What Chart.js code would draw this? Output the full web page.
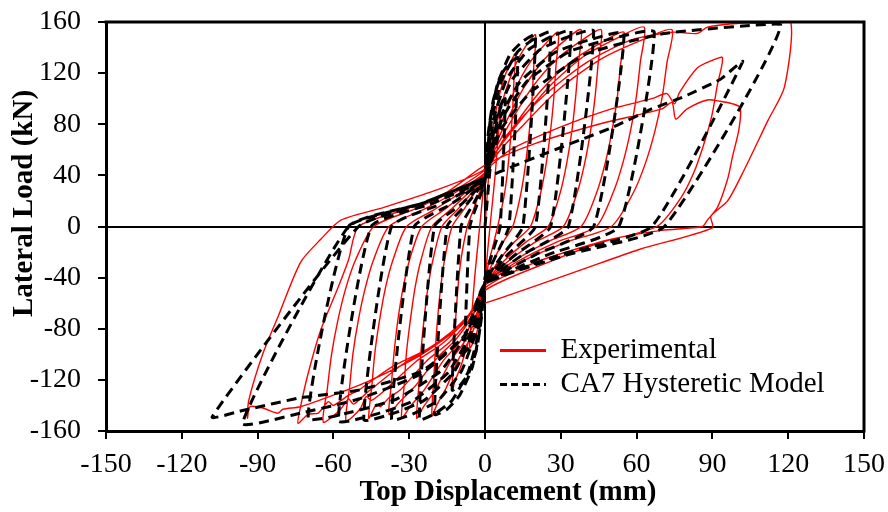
<!DOCTYPE html>
<html><head><meta charset="utf-8">
<script src="https://cdn.jsdelivr.net/npm/chart.js@4.4.1/dist/chart.umd.min.js"></script>
<style>html,body{margin:0;padding:0;background:#fff;}canvas{display:block;}</style>
</head><body>
<canvas id="c" width="888" height="512"></canvas>
<script>
const xTicks = [-150,-120,-90,-60,-30,0,30,60,90,120,150];
const yTicks = [-160,-120,-80,-40,0,40,80,120,160];
const seriesNames = ['Experimental','CA7 Hysteretic Model'];
const xTitle = 'Top Displacement (mm)';
const yTitle = 'Lateral Load (kN)';

// Experimental cycles: [top displacement (mm), lateral load (kN)]
const exp1 = [[0,0],[1.5,40],[3.5,72],[6,95],[5.2,70],[4,40],[2.5,10],[1,-20],[0,-45],[-1.5,-65],[-3.5,-85],[-6,-95],[-5.2,-68],[-4,-38],[-2.5,-8],[-1,22],[0,42]];
const exp2 = [[0.6,47],[2.3,68],[4.8,95],[7.4,115],[10,128],[12,135],[11.4,112],[10.9,89],[10,66],[8.9,43],[7.5,23],[5,0],[3.3,-14],[1.5,-28],[0,-45],[-1.3,-58],[-3.9,-77],[-6.5,-90],[-9.5,-109],[-11.7,-120],[-13,-128],[-12.5,-106],[-12,-84],[-11.3,-63],[-10.4,-41],[-9.2,-22],[-7,0],[-4.6,13],[-2.1,27],[0,42]];
const exp3 = [[1,52],[3.8,75],[8,105],[12.4,128],[16.8,143],[20,150],[19.3,125],[18.6,99],[17.5,74],[16,48],[14.2,26],[11,0],[7.2,-12],[3.3,-27],[0,-45],[-2.1,-67],[-6.3,-89],[-10.5,-104],[-15.3,-126],[-18.9,-139],[-21,-148],[-20.4,-123],[-19.7,-98],[-18.8,-73],[-17.5,-47],[-15.9,-25],[-13,0],[-8.5,13],[-3.9,27],[0,42]];
const exp4 = [[1.5,53],[5.5,76],[11.6,106],[18,129],[24.4,144],[29,152],[28.1,126],[27.2,100],[25.9,74],[24.2,49],[22,26],[18,0],[11.7,-12],[5.4,-27],[0,-45],[-2.7,-68],[-8.1,-90],[-13.5,-105],[-19.7,-128],[-24.3,-141],[-27,-150],[-26.2,-125],[-25.4,-99],[-24.2,-74],[-22.6,-48],[-20.6,-26],[-17,0],[-11,13],[-5.1,27],[0,42]];
const exp5 = [[1.9,54],[7.2,77],[15.2,108],[23.6,131],[31.9,146],[38,154],[37,128],[35.9,102],[34.4,75],[32.3,49],[29.7,26],[25,0],[16.3,-12],[7.5,-27],[0,-45],[-3.3,-68],[-9.9,-90],[-16.5,-105],[-24.1,-128],[-29.7,-141],[-33,-150],[-32,-125],[-31.1,-99],[-29.6,-74],[-27.7,-48],[-25.3,-26],[-21,0],[-13.7,13],[-6.3,27],[0,42]];
const exp6 = [[2.3,54],[8.7,77],[18.4,108],[28.5,131],[38.6,146],[46,154],[44.8,128],[43.6,102],[41.8,75],[39.4,49],[36.4,26],[31,0],[20,-12],[9.3,-27],[0,-45],[-3.8,-66],[-11.4,-88],[-19,-103],[-27.7,-125],[-34.2,-138],[-38,-147],[-37,-122],[-35.9,-97],[-34.4,-72],[-32.3,-47],[-29.7,-25],[-25,0],[-16.3,13],[-7.5,27],[0,42]];
const exp7 = [[2.8,53],[10.5,76],[22,106],[34.1,129],[46.2,144],[55,152],[53.6,126],[52.3,100],[50.2,74],[47.5,49],[44.1,26],[38,0],[24.7,-12],[11.4,-27],[0,-45],[-4.6,-68],[-13.8,-90],[-23,-105],[-33.6,-128],[-38,-134],[-41.4,-141],[-43,-139],[-46,-150],[-44.8,-125],[-43.6,-99],[-41.8,-74],[-39.4,-48],[-36.4,-26],[-31,0],[-20.2,13],[-9.3,27],[0,42]];
const exp8 = [[3.2,55],[12,78],[25.2,109],[39,133],[52.9,148],[63,156],[61.5,129],[60,103],[57.7,76],[54.6,50],[50.8,27],[44,0],[28.6,-12],[13.2,-27],[0,-45],[-5.5,-68],[-16.5,-91],[-27.5,-106],[-40.2,-129],[-45,-136],[-47,-133],[-49.5,-143],[-55,-152],[-53.6,-126],[-52.3,-100],[-50.2,-74],[-47.5,-49],[-44.1,-26],[-38,0],[-24.7,13],[-11.4,27],[0,42]];
const exp9 = [[3.7,54],[14,77],[29.6,108],[45.9,131],[62.2,146],[74,154],[72,128],[70.2,102],[67.3,75],[63.4,49],[58.6,26],[50,0],[32.5,-12],[15,-27],[0,-46],[-6.4,-69],[-19.2,-92],[-32,-107],[-46.7,-130],[-52,-139],[-54,-135],[-57.6,-144],[-64,-153],[-62.4,-127],[-60.8,-101],[-58.4,-75],[-55.2,-49],[-51.2,-26],[-44,0],[-28.6,13],[-13.2,27],[0,44]];
const exp10 = [[10,60],[30,78],[50,92],[66,100],[72,104],[75,96],[77,105],[84,124],[90,130],[94,132],[91.9,110],[89.8,87],[86.7,65],[82.6,42],[77.4,22],[68,0],[44,-13],[20,-28],[0,-48],[-7.4,-72],[-22,-95],[-37,-110],[-50,-128],[-54,-132],[-60,-140],[-62,-137],[-66,-146],[-70,-147],[-74,-154],[-73,-141],[-70,-115],[-65,-81],[-58,-47],[-54,-26],[-50,0],[-32,13],[-15,27],[0,48]];
const exp11 = [[20,65],[45,80],[70,92],[74,97],[75.5,84],[80,92],[88,99],[93,98],[98,96],[101,93],[100.5,76],[98,55],[96,37],[92,15],[88,5],[86,0],[70,-3],[50,-10],[25,-28],[0,-50],[-8,-75],[-25,-100],[-45,-120],[-60,-132],[-73,-141],[-80,-143],[-82,-146],[-88,-142],[-93,-141],[-94,-150],[-93.5,-136],[-88,-100],[-82,-71],[-73,-28],[-65,-10],[-57,5],[-40,15],[-20,28],[0,45]];
const exp12 = [[8,70],[22,100],[40,128],[58,146],[74,152],[84,151],[88,156],[101,159],[112,159],[121,160],[118.5,109],[112,83],[102.5,44],[96,20],[89.4,8],[90,-1],[61,-18],[38,-34],[6,-56],[0,-60]];

// CA7 hysteretic model cycles: [top displacement (mm), lateral load (kN)]
const mod1 = [[0,0],[2,45],[4,75],[6,92],[8,100],[6,0],[3,-20],[0,-40],[-2,-70],[-4,-85],[-6,-93],[-8,-98],[-6,0],[-3,18],[0,35]];
const mod2 = [[1.3,73],[3.3,99],[6.5,119],[9.8,128],[13,132],[9.5,0],[4.5,-22],[0,-42],[-1.3,-70],[-3.3,-96],[-6.5,-115],[-9.8,-124],[-13,-128],[-9.5,0],[-4.5,18],[0,36]];
const mod3 = [[2,82],[5,112],[10,135],[15,145],[20,150],[15,0],[7,-22],[0,-43],[-2,-80],[-5,-110],[-10,-132],[-15,-143],[-20,-147],[-15,0],[-7,18],[0,37]];
const mod4 = [[2.6,83],[6.5,114],[13,137],[19.5,147],[26,152],[20,0],[9,-22],[0,-44],[-2.6,-83],[-6.5,-113],[-13,-136],[-19.5,-146],[-26,-151],[-20,0],[-9,18],[0,37]];
const mod5 = [[3.4,84],[8.5,115],[17,138],[25.5,148],[34,153],[26,0],[12,-22],[0,-44],[-3.7,-83],[-9.3,-113],[-18.5,-136],[-27.8,-146],[-37,-151],[-28,0],[-13,18],[0,38]];
const mod6 = [[4.3,84],[10.8,115],[21.5,138],[32.3,148],[43,153],[33,0],[15,-22],[0,-45],[-4.8,-83],[-12,-113],[-24,-136],[-36,-146],[-48,-151],[-37,0],[-17,18],[0,38]];
const mod7 = [[5.5,83],[13.8,113],[27.5,136],[41.3,146],[55,151],[43,0],[20,-22],[0,-45],[-5.8,-84],[-14.5,-114],[-29,-137],[-43.5,-147],[-58,-152],[-45,0],[-21,18],[0,38]];
const mod8 = [[6.7,84],[16.8,114],[33.5,137],[50.3,147],[67,152],[53,0],[25,-22],[0,-45],[-7,-83],[-17.5,-113],[-35,-135],[-52.5,-145],[-70,-150],[-54,0],[-25,18],[0,38]];
const mod9 = [[11,47],[25,58],[38,68],[51,78],[66,92],[78,101],[93,115],[102,129],[66,0],[30,-22],[0,-45],[-8,-85],[-25,-115],[-50,-135],[-73,-146],[-96,-154],[-54,0],[-25,18],[0,38]];
const mod10 = [[6,75],[18,105],[40,135],[71,151],[117,158],[71,0],[33,-22],[0,-45],[-8,-85],[-25,-113],[-50,-128],[-73,-134],[-96,-144],[-108,-149],[-50,0],[-25,18],[0,38]];

const expLoops = [exp1,exp2,exp3,exp4,exp5,exp6,exp7,exp8,exp9,exp10,exp11,exp12];
const modLoops = [mod1,mod2,mod3,mod4,mod5,mod6,mod7,mod8,mod9,mod10];
const toPts = loops => loops.flat().map(p => ({x: p[0], y: p[1]}));

const serif = "'Liberation Serif','Times New Roman',serif";

const framePlugin = {
  id: 'frame',
  afterDatasetsDraw(chart) {
    const {ctx, chartArea: a} = chart;
    ctx.save();
    ctx.strokeStyle = '#000'; ctx.lineWidth = 3;
    ctx.beginPath();
    ctx.moveTo(a.left - 1.5, a.top); ctx.lineTo(a.right, a.top); ctx.lineTo(a.right, a.bottom + 1.5);
    ctx.stroke();
    ctx.restore();
  }
};

function shiftTitle(scale, dx, dy) {
  if (scale._shifted) return;
  const base = Object.getPrototypeOf(scale).drawTitle;
  scale.drawTitle = function() {
    this.ctx.save(); this.ctx.translate(dx, dy); base.call(this); this.ctx.restore();
  };
  scale._shifted = true;
}

const placePlugin = {
  id: 'place',
  afterLayout(chart) {
    const lg = chart.legend;
    if (lg) {
      lg.left = 495; lg.top = 331; lg.right = 862; lg.bottom = 420;
      lg.width = lg.right - lg.left; lg.height = lg.bottom - lg.top;
      if (lg.adjustHitBoxes) lg.adjustHitBoxes();
    }
    shiftTitle(chart.scales.x, 23, 0);
    shiftTitle(chart.scales.y, 0, -23);
  }
};

const zeroColor = c => (c.tick && c.tick.value === 0) ? '#000' : 'rgba(0,0,0,0)';

new Chart(document.getElementById('c'), {
  type: 'scatter',
  data: {
    datasets: [
      {
        label: seriesNames[0],
        data: toPts(expLoops),
        showLine: true,
        borderColor: '#ff0000',
        borderWidth: 1.4,
        pointRadius: 0,
        tension: 0.25,
        fill: false,
        order: 1
      },
      {
        label: seriesNames[1],
        data: toPts(modLoops),
        showLine: true,
        borderColor: '#000000',
        borderWidth: 3,
        borderDash: [10, 6],
        pointRadius: 0,
        tension: 0.15,
        fill: false,
        order: 0
      }
    ]
  },
  options: {
    responsive: false,
    animation: false,
    devicePixelRatio: 1,
    layout: { padding: { left: 0, right: 24, top: 22, bottom: 0 } },
    plugins: {
      tooltip: { enabled: false },
      legend: {
        display: true,
        position: 'chartArea',
        align: 'start',
        labels: {
          usePointStyle: true,
          pointStyleWidth: 46,
          padding: 5,
          color: '#000',
          font: { family: serif, size: 29 },
          generateLabels: () => [
            { text: seriesNames[0], strokeStyle: '#ff0000', fillStyle: '#ff0000', lineWidth: 3, lineDash: [], pointStyle: 'line', datasetIndex: 0, fontColor: '#000' },
            { text: seriesNames[1], strokeStyle: '#000000', fillStyle: '#000000', lineWidth: 3, lineDash: [7, 4], pointStyle: 'line', datasetIndex: 1, fontColor: '#000' }
          ]
        }
      }
    },
    scales: {
      x: {
        type: 'linear',
        min: -150, max: 150,
        afterBuildTicks: s => { s.ticks = xTicks.map(v => ({ value: v })); },
        afterFit: s => { s.height = 81; s.paddingLeft = 0; s.paddingRight = 0; },
        ticks: { color: '#000', font: { family: serif, size: 28 }, padding: 9, maxRotation: 0, autoSkip: false },
        grid: { color: zeroColor, lineWidth: 2, drawOnChartArea: true, drawTicks: true, tickLength: 8, tickColor: '#000', tickWidth: 2 },
        border: { display: true, color: '#000', width: 3 },
        title: { display: true, text: xTitle, color: '#000', font: { family: serif, size: 29, weight: 'bold' }, padding: { top: 0, bottom: 2 } }
      },
      y: {
        type: 'linear',
        min: -160, max: 160,
        afterBuildTicks: s => { s.ticks = yTicks.map(v => ({ value: v })); },
        afterFit: s => { s.width = 106; s.paddingTop = 0; s.paddingBottom = 0; },
        ticks: { color: '#000', font: { family: serif, size: 28 }, padding: 17, autoSkip: false },
        grid: { color: zeroColor, lineWidth: 2, drawOnChartArea: true, drawTicks: true, tickLength: 8, tickColor: '#000', tickWidth: 2 },
        border: { display: true, color: '#000', width: 3 },
        title: { display: true, text: yTitle, color: '#000', font: { family: serif, size: 29, weight: 'bold' }, padding: { top: 7, bottom: 0 } }
      }
    }
  },
  plugins: [placePlugin, framePlugin]
});
</script>
</body></html>
